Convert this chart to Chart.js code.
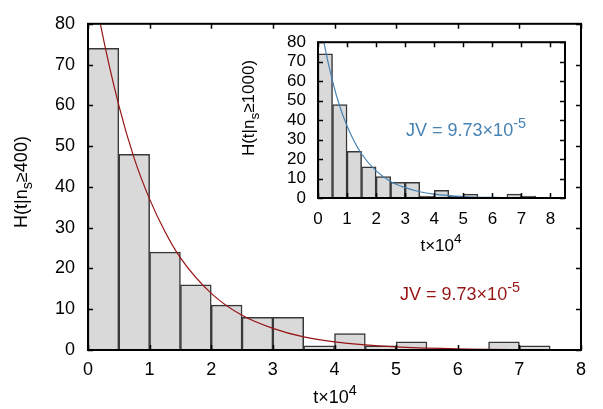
<!DOCTYPE html>
<html>
<head>
<meta charset="utf-8">
<script src="https://cdn.jsdelivr.net/npm/chart.js@4.4.0/dist/chart.umd.min.js"></script>
<style>
  body { margin: 0; background: #fff; }
  #wrap { position: relative; width: 603px; height: 409px; }
  #main { position: absolute; left: 0; top: 0; }
  #inset { position: absolute; left: 230px; top: 20px; }
</style>
</head>
<body>
<div id="wrap">
  <canvas id="main" width="603" height="409"></canvas>
  <canvas id="inset" width="360" height="240"></canvas>
</div>
<script>
// bin centres, t x 10^4 (bin width 0.5)
const binCenters = [0.25, 0.75, 1.25, 1.75, 2.25, 2.75, 3.25, 3.75, 4.25, 4.75, 5.25, 5.75, 6.25, 6.75, 7.25, 7.75];
const counts400 = [74, 48, 24, 16, 11, 8, 8, 1, 4, 1, 2, 0, 0, 2, 1, 0];
const counts1000 = [74, 48, 24, 16, 11, 8, 8, 1, 4, 1, 2, 0, 0, 2, 1, 0];

// fitted exponential
const fitT = [0.05, 0.2, 0.5, 0.75, 1, 1.25, 1.5, 2, 2.5, 3, 3.5, 4, 5, 6, 7, 8, 8.5];
const fitH = [92.5, 80, 60, 47, 37, 29, 22.6, 13.9, 8.5, 5.3, 3.2, 2.0, 0.75, 0.28, 0.1, 0.04, 0.02];

const yTicks = [0, 10, 20, 30, 40, 50, 60, 70, 80];
const xTicks = [0, 1, 2, 3, 4, 5, 6, 7, 8];

const FONT = "'Liberation Sans', Arial, Helvetica, sans-serif";
const darkRed = '#961414';
const steel = '#4682b4';

// text with sub/superscripts: parts = [[text, mode]] mode 0 normal, 1 sup, -1 sub
function richText(ctx, parts, x, y, size, color, rotate) {
    ctx.save();
    ctx.translate(x, y);
    if (rotate) ctx.rotate(-Math.PI / 2);
    ctx.fillStyle = color;
    ctx.textBaseline = 'alphabetic';
    ctx.textAlign = 'left';
    let total = 0;
    const widths = parts.map(p => {
        ctx.font = (p[1] ? size * 0.8 : size) + 'px ' + FONT;
        const w = ctx.measureText(p[0]).width;
        total += w;
        return w;
    });
    let cx = -total / 2;
    parts.forEach((p, i) => {
        ctx.font = (p[1] ? size * 0.8 : size) + 'px ' + FONT;
        let dy = size * 0.35;
        if (p[1] === 1) dy -= size * 0.45;
        if (p[1] === -1) dy += size * 0.28;
        ctx.fillText(p[0], cx, dy);
        cx += widths[i];
    });
    ctx.restore();
}

// gnuplot-like frame with inward ticks on all four sides
const framePlugin = {
    id: 'frame',
    afterDraw(chart, args, opts) {
        const ctx = chart.ctx;
        const a = chart.chartArea;
        const xs = chart.scales.x, ys = chart.scales.y;
        const len = opts.tick;
        ctx.save();
        ctx.strokeStyle = '#000';
        ctx.lineWidth = 1.5;
        ctx.beginPath();
        xs.ticks.forEach(t => {
            const px = Math.round(xs.getPixelForValue(t.value)) + 0.5;
            ctx.moveTo(px, a.bottom); ctx.lineTo(px, a.bottom - len);
            ctx.moveTo(px, a.top); ctx.lineTo(px, a.top + len);
        });
        ys.ticks.forEach(t => {
            const py = Math.round(ys.getPixelForValue(t.value)) + 0.5;
            ctx.moveTo(a.left, py); ctx.lineTo(a.left + len, py);
            ctx.moveTo(a.right, py); ctx.lineTo(a.right - len, py);
        });
        ctx.stroke();
        ctx.lineWidth = 2;
        ctx.strokeRect(a.left, a.top, a.right - a.left, a.bottom - a.top);
        ctx.restore();
        opts.texts.forEach(t => richText(ctx, t.parts, t.x, t.y, t.size, t.color, t.rotate));
    }
};

function makeChart(canvas, counts, lineColor, xMax, fontSize, pads, texts, tickLen) {
    return new Chart(canvas, {
        data: {
            datasets: [
                {
                    type: 'line',
                    data: fitT.map((t, i) => ({ x: t, y: fitH[i] })),
                    borderColor: lineColor,
                    borderWidth: 1.2,
                    pointRadius: 0,
                    cubicInterpolationMode: 'monotone',
                    order: 0
                },
                {
                    type: 'bar',
                    data: binCenters.map((c, i) => ({ x: c, y: counts[i] })),
                    backgroundColor: '#d9d9d9',
                    borderColor: '#383838',
                    borderWidth: 1.5,
                    borderSkipped: 'bottom',
                    barPercentage: 1,
                    categoryPercentage: 1,
                    order: 1
                }
            ]
        },
        options: {
            responsive: false,
            animation: false,
            devicePixelRatio: 1,
            layout: { padding: { left: 0, top: pads.top, right: pads.right, bottom: 0 } },
            plugins: {
                legend: { display: false },
                tooltip: { enabled: false },
                frame: { texts: texts, tick: tickLen }
            },
            scales: {
                x: {
                    type: 'linear',
                    min: 0,
                    max: xMax,
                    offset: false,
                    afterBuildTicks: s => { s.ticks = xTicks.map(v => ({ value: v })); },
                    afterFit: s => { s.height = pads.xh; },
                    grid: { display: false, drawTicks: false },
                    border: { display: false },
                    ticks: { color: '#000', padding: pads.xpad, autoSkip: false, maxRotation: 0, font: { family: FONT, size: fontSize } }
                },
                y: {
                    min: 0,
                    max: 80,
                    afterBuildTicks: s => { s.ticks = yTicks.map(v => ({ value: v })); },
                    afterFit: s => { s.width = 88; },
                    grid: { display: false, drawTicks: false },
                    border: { display: false },
                    ticks: { color: '#000', padding: pads.ypad, autoSkip: false, font: { family: FONT, size: fontSize } }
                }
            }
        },
        plugins: [framePlugin]
    });
}

makeChart(document.getElementById('main'), counts400, darkRed, 8, 18,
    { top: 14, right: 22, xh: 59, xpad: 9, ypad: 13 },
    [
        { parts: [['H(t|n', 0], ['s', -1], ['\u2265400)', 0]], x: 21, y: 182, size: 18, color: '#000', rotate: true },
        { parts: [['t\u00d710', 0], ['4', 1]], x: 335, y: 397, size: 18, color: '#000' },
        { parts: [['JV = 9.73\u00d710', 0], ['-5', 1]], x: 460, y: 294, size: 18, color: darkRed }
    ], 5);

makeChart(document.getElementById('inset'), counts1000, steel, 8.5, 17,
    { top: 16, right: 25, xh: 62, xpad: 11, ypad: 12 },
    [
        { parts: [['H(t|n', 0], ['s', -1], ['\u22651000)', 0]], x: 18, y: 88, size: 17, color: '#000', rotate: true },
        { parts: [['t\u00d710', 0], ['4', 1]], x: 211, y: 225, size: 17, color: '#000' },
        { parts: [['JV = 9.73\u00d710', 0], ['-5', 1]], x: 236, y: 110, size: 18, color: steel }
    ], 5);
</script>
</body>
</html>
